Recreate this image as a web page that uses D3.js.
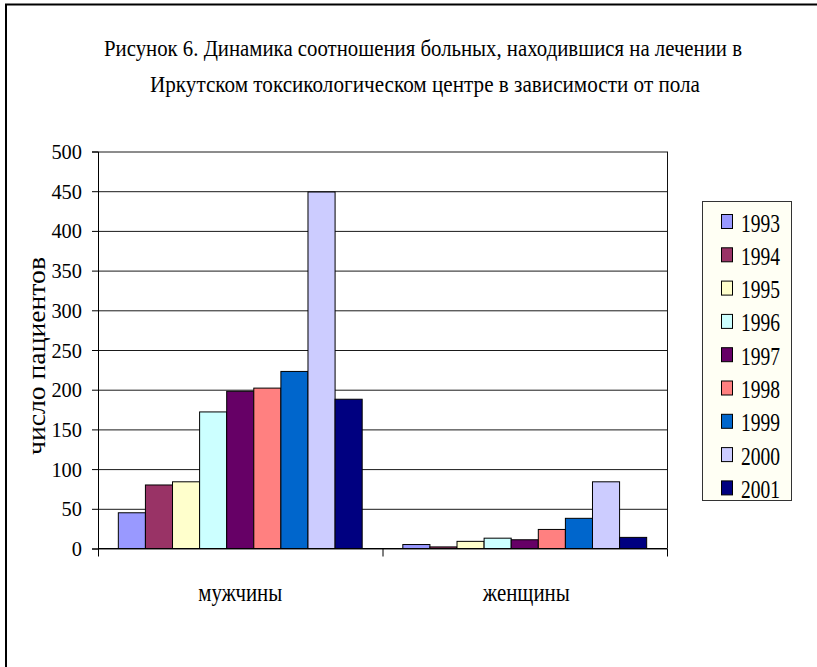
<!DOCTYPE html>
<html>
<head>
<meta charset="utf-8">
<script src="https://cdn.jsdelivr.net/npm/d3@7"></script>
<style>
  html, body { margin: 0; padding: 0; background: #fff; overflow: hidden; }
  svg { display: block; }
  text { font-family: "Liberation Serif", "Times New Roman", Times, Tinos, "DejaVu Serif", serif; fill: #000; }
</style>
</head>
<body>
<svg id="chart" width="817" height="667"></svg>
<script>
// Patients treated at the Irkutsk toxicology centre, by sex and year
const categories = ["мужчины", "женщины"];
const years = ["1993", "1994", "1995", "1996", "1997", "1998", "1999", "2000", "2001"];
const men   = [45, 80, 84, 172, 198, 202, 223, 449, 188];
const women = [5, 2, 9, 13, 11, 24, 38, 84, 14];
const yTicks = [0, 50, 100, 150, 200, 250, 300, 350, 400, 450, 500];
const colors = ["#9999FF", "#993366", "#FFFFCC", "#CCFFFF", "#660066", "#FF8080", "#0066CC", "#CCCCFF", "#000080"];
const titleLines = [
  "Рисунок 6. Динамика соотношения больных, находившися на лечении в",
  "Иркутском токсикологическом центре в зависимости от пола"
];
const yTitle = "число пациентов";

const seriesByCategory = [men, women];

const svg = d3.select("#chart");
const plot = { left: 98, right: 667, top: 151.5, bottom: 548.5 };

// outer frame (left and top edges fall inside the page)
svg.append("path")
  .attr("d", "M6,667 L6,4.5 L817,4.5")
  .attr("fill", "none").attr("stroke", "#000").attr("stroke-width", 2);

// title, slightly stretched vertically
const titleGeom = [
  { x: 104, y: 56, len: 638 },
  { x: 150, y: 92, len: 550 }
];
svg.selectAll("text.title").data(titleLines).join("text")
  .attr("class", "title")
  .attr("transform", (d, i) => `translate(${titleGeom[i].x},${titleGeom[i].y}) scale(1,1.12)`)
  .attr("font-size", 21)
  .attr("textLength", (d, i) => titleGeom[i].len)
  .attr("lengthAdjust", "spacingAndGlyphs")
  .text(d => d);

// scales
const x0 = d3.scaleBand().domain(categories).range([plot.left, plot.right]).paddingInner(0).paddingOuter(0);
const x1 = d3.scaleBand().domain(years).range([0, x0.bandwidth()]).paddingInner(0).paddingOuter(0.75);
const y = d3.scaleLinear().domain([0, 500]).range([plot.bottom, plot.top]);

// gridlines
svg.append("g")
  .attr("transform", `translate(${plot.left},0)`)
  .call(d3.axisLeft(y).tickValues(yTicks).tickSize(-(plot.right - plot.left)).tickFormat(""))
  .call(g => g.select(".domain").remove())
  .call(g => g.selectAll("line").attr("stroke", "#1a1a1a").attr("stroke-width", 1));

// right border of plot area
svg.append("line").attr("x1", plot.right + 0.5).attr("x2", plot.right + 0.5)
  .attr("y1", plot.top).attr("y2", plot.bottom).attr("stroke", "#111");

// bars
const groups = svg.selectAll("g.cat").data(categories).join("g")
  .attr("class", "cat")
  .attr("transform", d => `translate(${x0(d)},0)`);
groups.selectAll("rect").data((d, i) => seriesByCategory[i].map((v, j) => ({ year: years[j], v, c: colors[j] })))
  .join("rect")
  .attr("x", d => x1(d.year))
  .attr("y", d => y(d.v))
  .attr("width", x1.bandwidth())
  .attr("height", d => y(0) - y(d.v))
  .attr("fill", d => d.c)
  .attr("stroke", "#000")
  .attr("stroke-width", 1);

// y axis
const yAxis = svg.append("g")
  .attr("transform", `translate(${plot.left},0)`)
  .call(d3.axisLeft(y).tickValues(yTicks).tickSize(6).tickPadding(10));
yAxis.attr("font-family", null).attr("font-size", null);
yAxis.select(".domain").attr("stroke", "#000");
yAxis.selectAll("line").attr("stroke", "#000");
yAxis.selectAll("text")
  .attr("font-size", 22)
  .attr("textLength", d => String(d).length * 10.2)
  .attr("lengthAdjust", "spacingAndGlyphs");

// x axis
const xAxis = svg.append("g").attr("transform", `translate(0,${plot.bottom})`);
xAxis.append("line").attr("x1", plot.left).attr("x2", plot.right).attr("stroke", "#000");
const boundaries = [x0(categories[0]), ...categories.map(c => x0(c) + x0.bandwidth())];
xAxis.selectAll("line.tick").data(boundaries).join("line")
  .attr("class", "tick")
  .attr("x1", d => d + 0.5).attr("x2", d => d + 0.5)
  .attr("y1", 0).attr("y2", 8)
  .attr("stroke", "#000");
const catLen = [84, 87];
svg.selectAll("text.cat").data(categories).join("text")
  .attr("class", "cat")
  .attr("x", d => x0(d) + x0.bandwidth() / 2 - 42)
  .attr("y", 601)
  .attr("font-size", 26)
  .attr("textLength", (d, i) => catLen[i])
  .attr("lengthAdjust", "spacingAndGlyphs")
  .text(d => d);

// y axis title
svg.append("text")
  .attr("transform", "translate(45,356) rotate(-90)")
  .attr("text-anchor", "middle")
  .attr("font-size", 26)
  .attr("textLength", 198)
  .attr("lengthAdjust", "spacingAndGlyphs")
  .text(yTitle);

// legend
const legend = svg.append("g");
legend.append("rect")
  .attr("x", 702.5).attr("y", 201.5).attr("width", 89).attr("height", 299)
  .attr("fill", "#fffff4").attr("stroke", "#333").attr("stroke-width", 1);
const items = legend.selectAll("g.item").data(years).join("g")
  .attr("class", "item")
  .attr("transform", (d, i) => `translate(721,${214 + i * 33.3})`);
items.append("rect")
  .attr("x", 0.5).attr("y", 0.5).attr("width", 11).attr("height", 14)
  .attr("fill", (d, i) => colors[i]).attr("stroke", "#000");
items.append("text")
  .attr("x", 20).attr("y", 17.5)
  .attr("font-size", 26)
  .attr("textLength", 39)
  .attr("lengthAdjust", "spacingAndGlyphs")
  .text(d => d);
</script>
</body>
</html>
